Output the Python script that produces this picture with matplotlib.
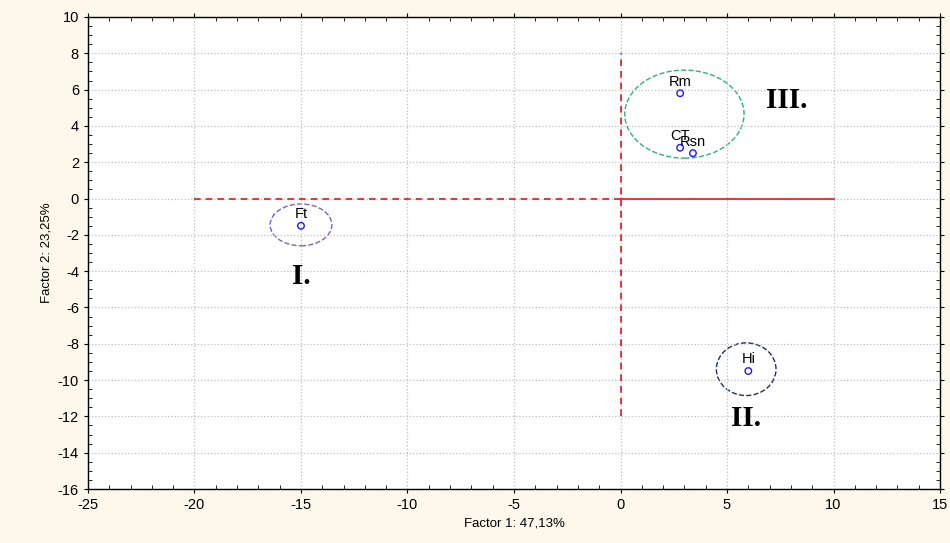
import matplotlib
matplotlib.use('Agg')
import matplotlib.pyplot as plt
from matplotlib.patches import Ellipse

plt.rcParams['font.family'] = ['Liberation Sans', 'DejaVu Sans']
plt.rcParams['axes.unicode_minus'] = False

# Case scores on the first two factors
labels = ['Ft', 'Hi', 'Rm', 'CT', 'Rsn']
factor1 = [-15.0, 6.0, 2.8, 2.8, 3.4]
factor2 = [-1.5, -9.5, 5.8, 2.8, 2.5]

# Group outlines: centre x, centre y, width, height, colour, label x, label y
groups = [
    ('I.', -15.0, -1.45, 2.9, 2.3, '#7f5fc4', -15.0, -4.3),
    ('II.', 5.9, -9.4, 2.8, 2.9, '#1f2f66', 5.9, -12.1),
    ('III.', 3.0, 4.65, 5.6, 4.85, '#2fb46e', 7.8, 5.4),
]

fig = plt.figure(figsize=(9.5, 5.43), dpi=100, facecolor='#fdf8ec')
ax = fig.add_axes([0.0926, 0.0994, 0.8969, 0.8693])
ax.set_facecolor('white')

ax.set_xlim(-25, 15)
ax.set_ylim(-16, 10)
ax.set_xticks(range(-25, 16, 5))
ax.set_yticks(range(-16, 11, 2))
ax.set_xticks(range(-25, 16, 1), minor=True)
ax.set_yticks([y / 2 for y in range(-32, 21)], minor=True)
ax.tick_params(which='major', direction='out', length=3, labelsize=10.5)
ax.tick_params(which='minor', direction='in', length=3, top=True, right=True)
ax.tick_params(which='major', top=True, right=True)
ax.grid(True, which='major', color='#bfbfbf', linestyle=':', linewidth=0.9)
for sp in ax.spines.values():
    sp.set_linewidth(1.0)

# Origin reference lines
ax.plot([-20, 0], [0, 0], color='#e8141b', linestyle='--', linewidth=1.2, dashes=(4, 3))
ax.plot([0, 10], [0, 0], color='#e8141b', linestyle='-', linewidth=1.2)
ax.plot([0, 0], [-12, 8], color='#e8141b', linestyle='--', linewidth=1.2, dashes=(4, 3))

for name, cx, cy, w, h, col, tx, ty in groups:
    ax.add_patch(Ellipse((cx, cy), w, h, fill=False, edgecolor=col,
                         linestyle='--', linewidth=1.0))
    ax.text(tx, ty, name, fontsize=21, fontweight='bold', ha='center', va='center',
            family=['Liberation Serif', 'DejaVu Serif'])

ax.scatter(factor1, factor2, s=22, facecolors='none', edgecolors='#1a1aff', linewidths=1.0, zorder=3)
for lab, x, y in zip(labels, factor1, factor2):
    ax.text(x, y + 0.25, lab, fontsize=10.5, ha='center', va='bottom')

ax.set_xlabel('Factor 1: 47,13%', fontsize=9.5)
ax.set_ylabel('Factor 2: 23,25%', fontsize=9.5)

fig.savefig('out.png', dpi=100, facecolor=fig.get_facecolor())
